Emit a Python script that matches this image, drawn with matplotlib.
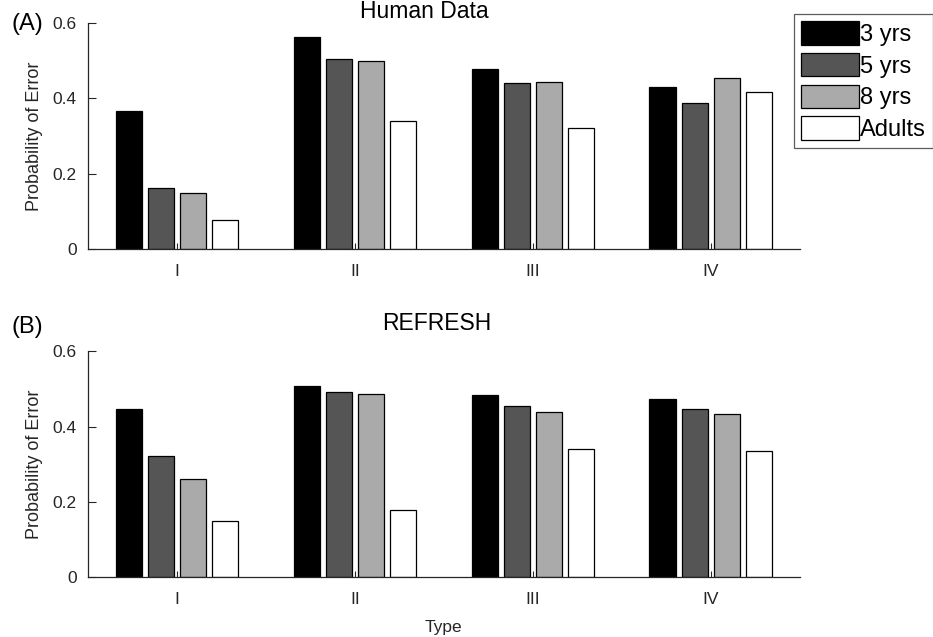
import matplotlib.pyplot as plt
import numpy as np

plt.rcParams['font.family'] = ['Liberation Sans', 'DejaVu Sans']

types = ["I", "II", "III", "IV"]
groups = ["3 yrs", "5 yrs", "8 yrs", "Adults"]
colors = ["#000000", "#555555", "#aaaaaa", "#ffffff"]

# probability of error, one list per age group (I..IV)
human_3 = [0.367, 0.564, 0.477, 0.430]
human_5 = [0.161, 0.504, 0.440, 0.387]
human_8 = [0.150, 0.500, 0.443, 0.453]
human_ad = [0.077, 0.341, 0.320, 0.416]

refresh_3 = [0.446, 0.507, 0.485, 0.474]
refresh_5 = [0.323, 0.493, 0.454, 0.446]
refresh_8 = [0.261, 0.486, 0.440, 0.435]
refresh_ad = [0.149, 0.177, 0.340, 0.334]

human = [human_3, human_5, human_8, human_ad]
refresh = [refresh_3, refresh_5, refresh_8, refresh_ad]

fig = plt.figure(figsize=(9.33, 6.37), dpi=100)
ax1 = fig.add_axes([0.0943, 0.609, 0.763, 0.355])
ax2 = fig.add_axes([0.0943, 0.0942, 0.763, 0.354])

x = np.arange(1, 5)
offsets = [-0.27, -0.09, 0.09, 0.27]
tc = "#262626"

def draw(ax, data):
    bars = []
    for i, vals in enumerate(data):
        b = ax.bar(x + offsets[i], vals, width=0.15, color=colors[i],
                   edgecolor="black", linewidth=0.9, label=groups[i], zorder=2)
        bars.append(b)
    ax.set_xlim(0.5, 4.5)
    ax.set_ylim(0, 0.6)
    ax.set_yticks([0, 0.2, 0.4, 0.6])
    ax.set_yticklabels(["0", "0.2", "0.4", "0.6"])
    ax.set_xticks(x)
    ax.set_xticklabels(types)
    ax.spines['top'].set_visible(False)
    ax.spines['right'].set_visible(False)
    for s in ['left', 'bottom']:
        ax.spines[s].set_color(tc)
        ax.spines[s].set_linewidth(0.9)
    ax.tick_params(axis='y', direction='in', length=6, labelsize=12.5, colors=tc, pad=8)
    ax.tick_params(axis='x', direction='in', length=4, labelsize=12.5, colors=tc, pad=11)
    ax.set_ylabel("Probability of Error", fontsize=13, color=tc, labelpad=7)
    return bars

bars = draw(ax1, human)
draw(ax2, refresh)
ax1.set_title("Human Data", fontsize=16.5, x=0.472, pad=-2)
ax2.set_title("REFRESH", fontsize=16.5, x=0.490, pad=15.5)
ax2.set_xlabel("Type", fontsize=12.5, color=tc, labelpad=9)

fig.text(0.0125, 1 - 30 / 637, "(A)", fontsize=17, va="baseline")
fig.text(0.0125, 1 - 333 / 637, "(B)", fontsize=17, va="baseline")

leg = fig.legend(bars, groups, loc="upper left", bbox_to_anchor=(794 / 933, 1 - 14 / 637),
                 fontsize=17, handlelength=2.45, handleheight=1.15,
                 handletextpad=0.05, labelspacing=0.3, borderpad=0.3,
                 fancybox=False, borderaxespad=0)
leg.get_frame().set_edgecolor("#333333")
leg.get_frame().set_linewidth(0.9)

fig.savefig("out.png", dpi=100)
